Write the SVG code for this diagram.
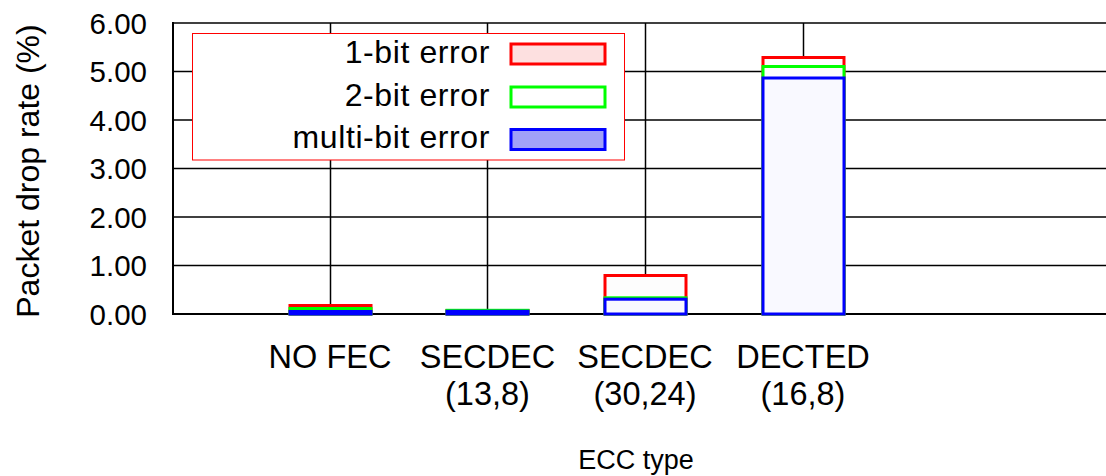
<svg xmlns="http://www.w3.org/2000/svg" width="1106" height="476" viewBox="0 0 1106 476">
<style>
text{font-family:"Liberation Sans",Arial,sans-serif;font-size:29.5px;fill:#000}
.grid{stroke:#000;stroke-width:1.5;fill:none}
.r{stroke:#ff0000;stroke-width:3;fill:#fdfdfd}
.g{stroke:#00ff00;stroke-width:3;fill:#fdfdfd}
.b{stroke:#0000ff;stroke-width:3;fill:#f9f9ff}
.tl text{text-anchor:end}
.c text,text.c{text-anchor:middle}
.xl text{font-size:32.5px}
.lg text{font-size:32px;letter-spacing:0.6px}
</style>
<rect width="1106" height="476" fill="#fff"/>
<g id="axes">
<g class="grid">
<line x1="173" y1="23" x2="1106" y2="23"/>
<line x1="173" y1="71.5" x2="1106" y2="71.5"/>
<line x1="173" y1="120" x2="1106" y2="120"/>
<line x1="173" y1="168.5" x2="1106" y2="168.5"/>
<line x1="173" y1="217" x2="1106" y2="217"/>
<line x1="173" y1="265.5" x2="1106" y2="265.5"/>
<line x1="173" y1="314" x2="1106" y2="314" stroke-width="2"/>
<line x1="173" y1="22" x2="173" y2="315" stroke-width="2"/>
<line x1="330.5" y1="23" x2="330.5" y2="306"/>
<line x1="487.5" y1="23" x2="487.5" y2="311"/>
<line x1="645.5" y1="23" x2="645.5" y2="276"/>
<line x1="803.5" y1="23" x2="803.5" y2="58"/>
</g>
<g class="tl">
<text x="147" y="33.5">6.00</text>
<text x="147" y="82">5.00</text>
<text x="147" y="130.5">4.00</text>
<text x="147" y="179">3.00</text>
<text x="147" y="227.5">2.00</text>
<text x="147" y="276">1.00</text>
<text x="147" y="324.5">0.00</text>
</g>
<text class="c" style="font-size:32px" transform="translate(39,171) rotate(-90)">Packet drop rate (%)</text>
<g class="c xl">
<text x="330" y="367.5">NO FEC</text>
<text x="487.5" y="367.5">SECDEC</text>
<text x="487.5" y="405">(13,8)</text>
<text x="645" y="367.5">SECDEC</text>
<text x="645" y="405">(30,24)</text>
<text x="803" y="367.5">DECTED</text>
<text x="803" y="405">(16,8)</text>
</g>
<text class="c" style="font-size:27px" x="636" y="469">ECC type</text>
</g>
<g id="legend">
<rect x="192.5" y="33.5" width="432" height="126.5" fill="#fff" stroke="#ff0000" stroke-width="1"/>
<g class="tl lg">
<text x="490" y="63">1-bit error</text>
<text x="490" y="105.5">2-bit error</text>
<text x="490" y="148">multi-bit error</text>
</g>
<rect x="511" y="44" width="94" height="20" stroke="#ff0000" stroke-width="3" fill="#fde0e0"/>
<rect x="511" y="87" width="94" height="20" stroke="#00ff00" stroke-width="3" fill="#fff"/>
<rect x="511" y="129.5" width="94" height="20" stroke="#0000ff" stroke-width="3" fill="#a0a0f8"/>
</g>
<g id="bar-nofec">
<rect class="r" x="290" y="305.5" width="81" height="8.5"/>
<rect class="g" x="290" y="308.5" width="81" height="5.5"/>
<rect class="b" x="290" y="311.5" width="81" height="2.5"/>
</g>
<g id="bar-secdec-13-8">
<rect class="r" x="447" y="310.5" width="81" height="3.5"/>
<rect class="g" x="447" y="310.3" width="81" height="3.7"/>
<rect class="b" x="447" y="311.3" width="81" height="2.7"/>
</g>
<g id="bar-secdec-30-24">
<rect class="r" x="605" y="275.5" width="81" height="38.5"/>
<rect class="g" x="605" y="297.8" width="81" height="16.2"/>
<rect class="b" x="605" y="299.2" width="81" height="14.8"/>
</g>
<g id="bar-dected">
<rect class="r" x="763" y="57.5" width="81" height="256.5"/>
<rect class="g" x="763" y="66.5" width="81" height="247.5"/>
<rect class="b" x="763" y="78" width="81" height="236"/>
</g>
</svg>
